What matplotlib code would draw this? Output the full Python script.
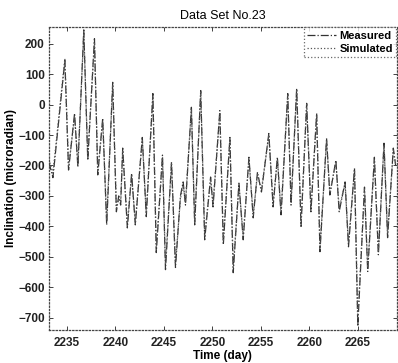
import matplotlib
matplotlib.use("Agg")
import matplotlib.pyplot as plt

# Extrema (time in days, inclination in microradian)
t_meas = [2233.15, 2233.56, 2234.79, 2235.17, 2235.79, 2236.13, 2236.74, 2237.15,
          2237.84, 2238.18, 2238.69, 2239.10, 2239.72, 2240.10, 2240.34, 2240.54,
          2240.75, 2241.23, 2241.67, 2242.05, 2242.77, 2243.18, 2243.86, 2244.21,
          2244.85, 2245.16, 2245.78, 2246.19, 2246.70, 2246.98, 2247.22, 2247.83,
          2248.17, 2248.79, 2249.20, 2249.81, 2250.06, 2250.76, 2251.12, 2251.80,
          2252.14, 2252.73, 2253.17, 2253.76, 2254.20, 2254.64, 2255.05, 2255.81,
          2256.25, 2256.69, 2257.07, 2257.76, 2258.10, 2258.68, 2259.13, 2259.71,
          2260.15, 2260.74, 2261.08, 2261.76, 2262.10, 2262.72, 2263.06, 2263.67,
          2264.02, 2264.64, 2264.98, 2265.67, 2266.00, 2266.69, 2267.10, 2267.68,
          2268.05, 2268.64, 2268.88]
measured = [-190, -240, 145, -215, -29, -205, 245, -183,
            216, -231, -45, -395, 73, -352, -300, -330,
            -143, -405, -226, -395, -108, -368, 36, -486,
            -166, -542, -189, -535, -300, -254, -330, -9,
            -395, 46, -444, -238, -336, -20, -460, -108,
            -552, -258, -444, -173, -372, -222, -287, -95,
            -336, -173, -362, 36, -330, 53, -400, 4,
            -352, -29, -483, -111, -297, -183, -352, -254,
            -467, -209, -728, -271, -548, -173, -493, -127,
            -437, -143, -200]

t_sim = t_meas
simulated = [-180, -225, 150, -205, -40, -195, 235, -170,
             205, -220, -55, -380, 65, -340, -310, -320,
             -150, -390, -235, -385, -115, -355, 30, -470,
             -175, -525, -195, -520, -310, -265, -320, -15,
             -385, 40, -430, -245, -325, -30, -445, -115,
             -535, -265, -430, -180, -360, -230, -280, -100,
             -325, -180, -350, 30, -320, 45, -390, 0,
             -340, -35, -470, -118, -290, -190, -340, -260,
             -455, -215, -705, -278, -535, -180, -480, -133,
             -425, -150, -195]

xticks = [2235, 2240, 2245, 2250, 2255, 2260, 2265]
yticks = [-700, -600, -500, -400, -300, -200, -100, 0, 100, 200]

plt.rcParams['font.family'] = ['Liberation Sans', 'DejaVu Sans']

fig = plt.figure(figsize=(3.98, 3.63), dpi=100)
ax = fig.add_axes([0.123, 0.091, 0.874, 0.835])

ax.plot(t_meas, measured, color='#333333', lw=0.9, linestyle='-.', label='Measured')
ax.plot(t_sim, simulated, color='#555555', lw=0.9, linestyle=':', label='Simulated')

ax.set_xlim(2233.15, 2269.0)
ax.set_ylim(-740, 255)
ax.set_xticks(xticks)
ax.set_yticks(yticks)
ax.tick_params(direction='in', length=3, width=0.6, top=True, right=True,
               labelsize=8.5, colors='#222222')
ax.tick_params(axis='x', pad=5)
ax.tick_params(axis='y', pad=3)
for lab in ax.get_xticklabels() + ax.get_yticklabels():
    lab.set_fontweight('bold')
for sp in ax.spines.values():
    sp.set_linestyle(':')
    sp.set_linewidth(0.9)
    sp.set_color('#444444')

ax.set_title('Data Set No.23', fontsize=9, pad=6)
ax.set_xlabel('Time (day)', fontsize=8.5, fontweight='bold', labelpad=1)
ax.set_ylabel('Inclination (microradian)', fontsize=8.5, fontweight='bold', labelpad=1)

leg = ax.legend(loc='upper right', fontsize=8, frameon=True, fancybox=False,
                handlelength=2.6, handletextpad=0.3, borderpad=0.3,
                labelspacing=0.3, borderaxespad=0.05)
leg.get_frame().set_edgecolor('#444444')
leg.get_frame().set_linestyle(':')
leg.get_frame().set_linewidth(0.9)
for txt in leg.get_texts():
    txt.set_fontweight('bold')

fig.savefig('out.png', dpi=100)
